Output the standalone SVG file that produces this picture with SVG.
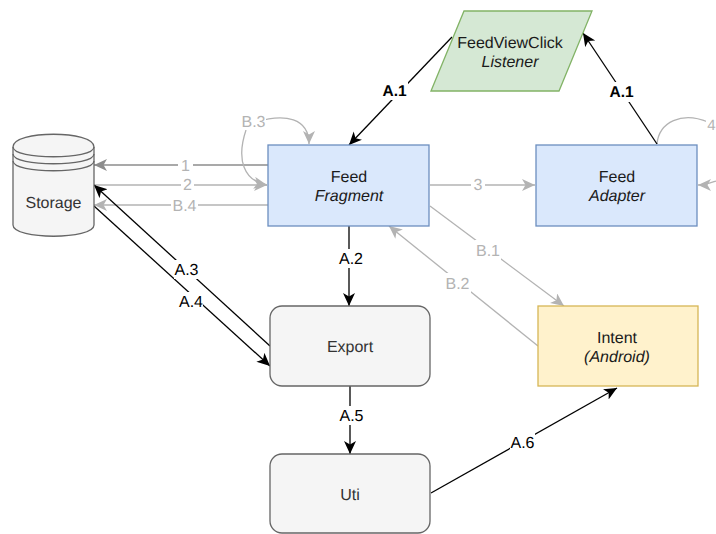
<svg xmlns="http://www.w3.org/2000/svg" width="716" height="534" viewBox="0 0 716 534">
<style>
text{font-family:"Liberation Sans",Arial,sans-serif;font-size:16px;text-anchor:middle;fill:#1a1a1a;text-rendering:geometricPrecision}
.i{font-style:italic}
.s{fill:#f5f5f5;stroke:#666;stroke-width:1.3}
.b{fill:#dae8fc;stroke:#6c8ebf;stroke-width:1.3}
.c{fill:none;stroke-width:1.3}
.k{stroke:#000}
.g{stroke:#b3b3b3}
.d{stroke:#8c8c8c}
.t{fill:#333}
.lb{fill:#000}
.lg{fill:#b3b3b3}
.bold{font-weight:bold;font-size:15.5px}
.bg{fill:#fff}
</style>
<defs>
<marker id="ak" markerUnits="userSpaceOnUse" markerWidth="14" markerHeight="14" refX="13" refY="6" orient="auto"><path d="M0 0L13 6L0 12L3.5 6Z" fill="#000"/></marker>
<marker id="ag" markerUnits="userSpaceOnUse" markerWidth="14" markerHeight="14" refX="13" refY="6" orient="auto"><path d="M0 0L13 6L0 12L3.5 6Z" fill="#b3b3b3"/></marker>
<marker id="ad" markerUnits="userSpaceOnUse" markerWidth="14" markerHeight="14" refX="13" refY="6" orient="auto"><path d="M0 0L13 6L0 12L3.5 6Z" fill="#8c8c8c"/></marker>
</defs>
<g id="connectors">
<path class="c d" marker-end="url(#ad)" d="M268 165H94"/>
<path class="c g" marker-end="url(#ag)" d="M94 185H267"/>
<path class="c g" marker-end="url(#ag)" d="M268 205H94"/>
<path class="c g" marker-end="url(#ag)" d="M430 185H535"/>
<path class="c g" marker-end="url(#ag)" d="M430 206L564 306"/>
<path class="c g" marker-end="url(#ag)" d="M538 346L389 226"/>
<path class="c g" marker-end="url(#ag)" d="M256 122C285 113 309 118 309 144"/>
<path class="c g" marker-end="url(#ag)" d="M246 130C236 160 244 181 267 185"/>
<path class="c g" d="M657 144C659 122 682 111 708 122"/>
<path class="c g" marker-end="url(#ag)" d="M716 181C710 183 705 185 698 185"/>
<path class="c k" marker-end="url(#ak)" d="M452 37L349 145"/>
<path class="c k" marker-end="url(#ak)" d="M657 144L583 33"/>
<path class="c k" marker-end="url(#ak)" d="M349 226V306"/>
<path class="c k" marker-end="url(#ak)" d="M270 346L94 185"/>
<path class="c k" marker-end="url(#ak)" d="M94 206L270 366"/>
<path class="c k" marker-end="url(#ak)" d="M350 386V454"/>
<path class="c k" marker-end="url(#ak)" d="M431 493L617 388"/>
</g>
<g id="storage">
<path class="s" d="M13 147C13 130 94 130 94 147V225C94 240 13 240 13 225Z"/>
<path class="c" stroke="#666" stroke-width="1.3" d="M13 147C13 160 94 160 94 147M13 154C13 167 94 167 94 154M13 161C13 174 94 174 94 161"/>
<text class="t" x="53.500" y="208">Storage</text>
</g>
<g id="feed-fragment">
<rect class="b" x="268" y="145" width="161" height="81"/>
<text x="349" y="182">Feed</text>
<text class="i" x="349" y="201">Fragment</text>
</g>
<g id="feed-adapter">
<rect class="b" x="536" y="145" width="161" height="81"/>
<text x="617" y="182">Feed</text>
<text class="i" x="617" y="201">Adapter</text>
</g>
<g id="listener">
<path d="M431 91L464 11H592L559 91Z" fill="#d5e8d4" stroke="#82b366" stroke-width="1.3"/>
<text x="510" y="48">FeedViewClick</text>
<text class="i" x="510" y="67">Listener</text>
</g>
<g id="export">
<rect class="s" x="270" y="306" width="160" height="80" rx="12"/>
<text class="t" x="350" y="352">Export</text>
</g>
<g id="uti">
<rect class="s" x="270" y="454" width="160" height="79" rx="12"/>
<text class="t" x="350" y="500">Uti</text>
</g>
<g id="intent">
<rect x="538" y="306" width="160" height="80" fill="#fff2cc" stroke="#d6b656" stroke-width="1.3"/>
<text x="617" y="343">Intent</text>
<text class="i" x="617" y="362">(Android)</text>
</g>
<g id="labels">
<rect class="bg" x="178" y="157" width="15" height="17"/><text class="lg" x="185.500" y="171">1</text>
<rect class="bg" x="181" y="177" width="13" height="16"/><text class="lg" x="187.500" y="190">2</text>
<rect class="bg" x="171" y="197" width="27" height="17"/><text class="lg" x="184.500" y="211">B.4</text>
<rect class="bg" x="471" y="177" width="14" height="16"/><text class="lg" x="478" y="190">3</text>
<rect class="bg" x="241" y="113" width="25" height="17"/><text class="lg" x="253.500" y="127">B.3</text>
<rect class="bg" x="475" y="240" width="26" height="20"/><text class="lg" x="488" y="256">B.1</text>
<rect class="bg" x="445" y="273" width="26" height="20"/><text class="lg" x="457.500" y="289">B.2</text>
<rect class="bg" x="706" y="116" width="10" height="16"/><text class="lg" x="711.500" y="130" style="font-size:15px">4</text>
<rect class="bg" x="382" y="82" width="26" height="18"/><text class="lb bold" x="394.500" y="96">A.1</text>
<rect class="bg" x="609" y="82" width="26" height="20"/><text class="lb bold" x="621.500" y="97">A.1</text>
<rect class="bg" x="338" y="249" width="26" height="19"/><text class="lb" x="351" y="264">A.2</text>
<rect class="bg" x="174" y="260" width="25" height="19"/><text class="lb" x="186.500" y="275">A.3</text>
<rect class="bg" x="178" y="292" width="25" height="18"/><text class="lb" x="191" y="307">A.4</text>
<rect class="bg" x="339" y="406" width="25" height="19"/><text class="lb" x="351.500" y="421">A.5</text>
<rect class="bg" x="510" y="433" width="25" height="19"/><text class="lb" x="522.500" y="448">A.6</text>
</g>
</svg>
